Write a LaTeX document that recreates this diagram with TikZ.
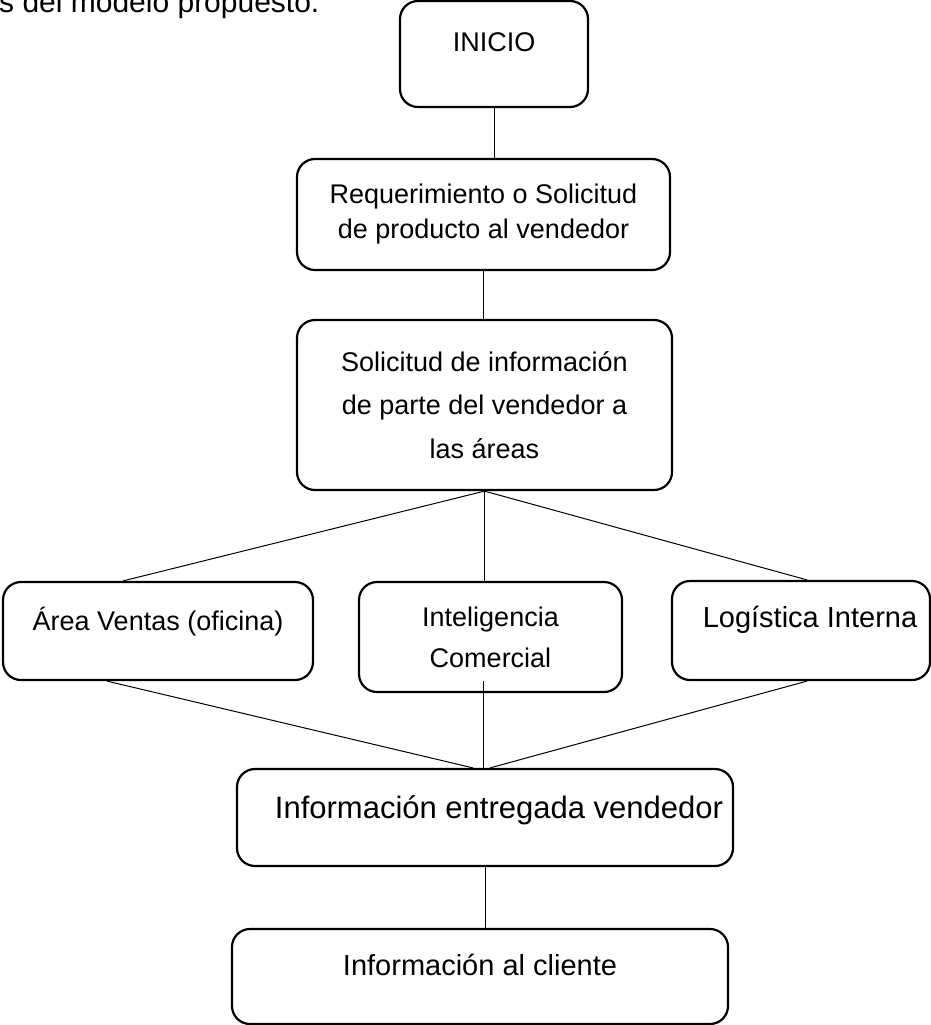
\documentclass[tikz,border=0pt]{standalone}
\usepackage{fontspec}
\setmainfont{Liberation Sans}
\usepackage{tikz}
\usetikzlibrary{calc}

\begin{document}
\begin{tikzpicture}[
    x=1pt, y=-1pt,
    box/.style={rectangle, draw, line width=2.2pt, rounded corners=18pt, align=center, inner sep=0pt, font=\fontsize{27}{35}\selectfont},
    lift/.style={text height=20pt, text depth=#1},
    link/.style={line width=1pt}
]
    \useasboundingbox (0,0) rectangle (931,1025);

    % Text cut off at the top
    \node[anchor=base west, inner sep=0pt, font=\fontsize{30}{36}\selectfont] (titulo) at (-1,13) {s del modelo propuesto.};

    % Nodes - main column
    \node[box, lift=24pt, minimum width=188pt, minimum height=106pt] (ini) at (494,54) {INICIO};
    \node[box, minimum width=373pt, minimum height=111pt] (req) at (483.5,214.5) {Requerimiento o Solicitud\\de producto al vendedor};
    \node[box, font=\fontsize{27}{43.5}\selectfont, minimum width=375pt, minimum height=170pt] (sol) at (484.5,405) {Solicitud de información\\de parte del vendedor a\\las áreas};

    % Nodes - areas
    \node[box, lift=22pt, minimum width=310pt, minimum height=98pt] (ventas) at (158,631) {Área Ventas (oficina)};
    \node[box, font=\fontsize{27}{41}\selectfont, minimum width=263pt, minimum height=110pt] (intel) at (490.5,637) {Inteligencia\\Comercial};
    \node[box, lift=27pt, font=\fontsize{29}{35}\selectfont, minimum width=258pt, minimum height=99pt] (logis) at (801,630.5) {\hspace*{18pt}Logística Interna};

    % Nodes - bottom
    \node[box, lift=19pt, font=\fontsize{31}{37}\selectfont, minimum width=496pt, minimum height=97pt] (entrega) at (485,817.5) {\hspace*{28pt}Información entregada vendedor};
    \node[box, lift=23pt, font=\fontsize{29}{35}\selectfont, minimum width=496pt, minimum height=95pt] (cliente) at (480,976.5) {Información al cliente};

    % Connectors
    \draw[link] (ini.south) -- (ini.south |- req.north);
    \draw[link] (req.south) -- (req.south |- sol.north);
    \draw[link] (sol.south) -- ($(ventas.north)+(-35,0)$);
    \draw[link] (sol.south) -- (sol.south |- intel.north);
    \draw[link] (sol.south) -- ($(logis.north)+(6,0)$);
    \draw[link] ($(ventas.south)+(-51,0)$) -- ($(entrega.north)+(-12,0)$);
    \draw[link] ($(intel.south)+(-7.5,-12)$) -- ($(entrega.north)+(-2,0)$);
    \draw[link] ($(logis.south)+(6,0)$) -- ($(entrega.north)+(5,0)$);
    \draw[link] (entrega.south) -- (entrega.south |- cliente.north);
\end{tikzpicture}
\end{document}
